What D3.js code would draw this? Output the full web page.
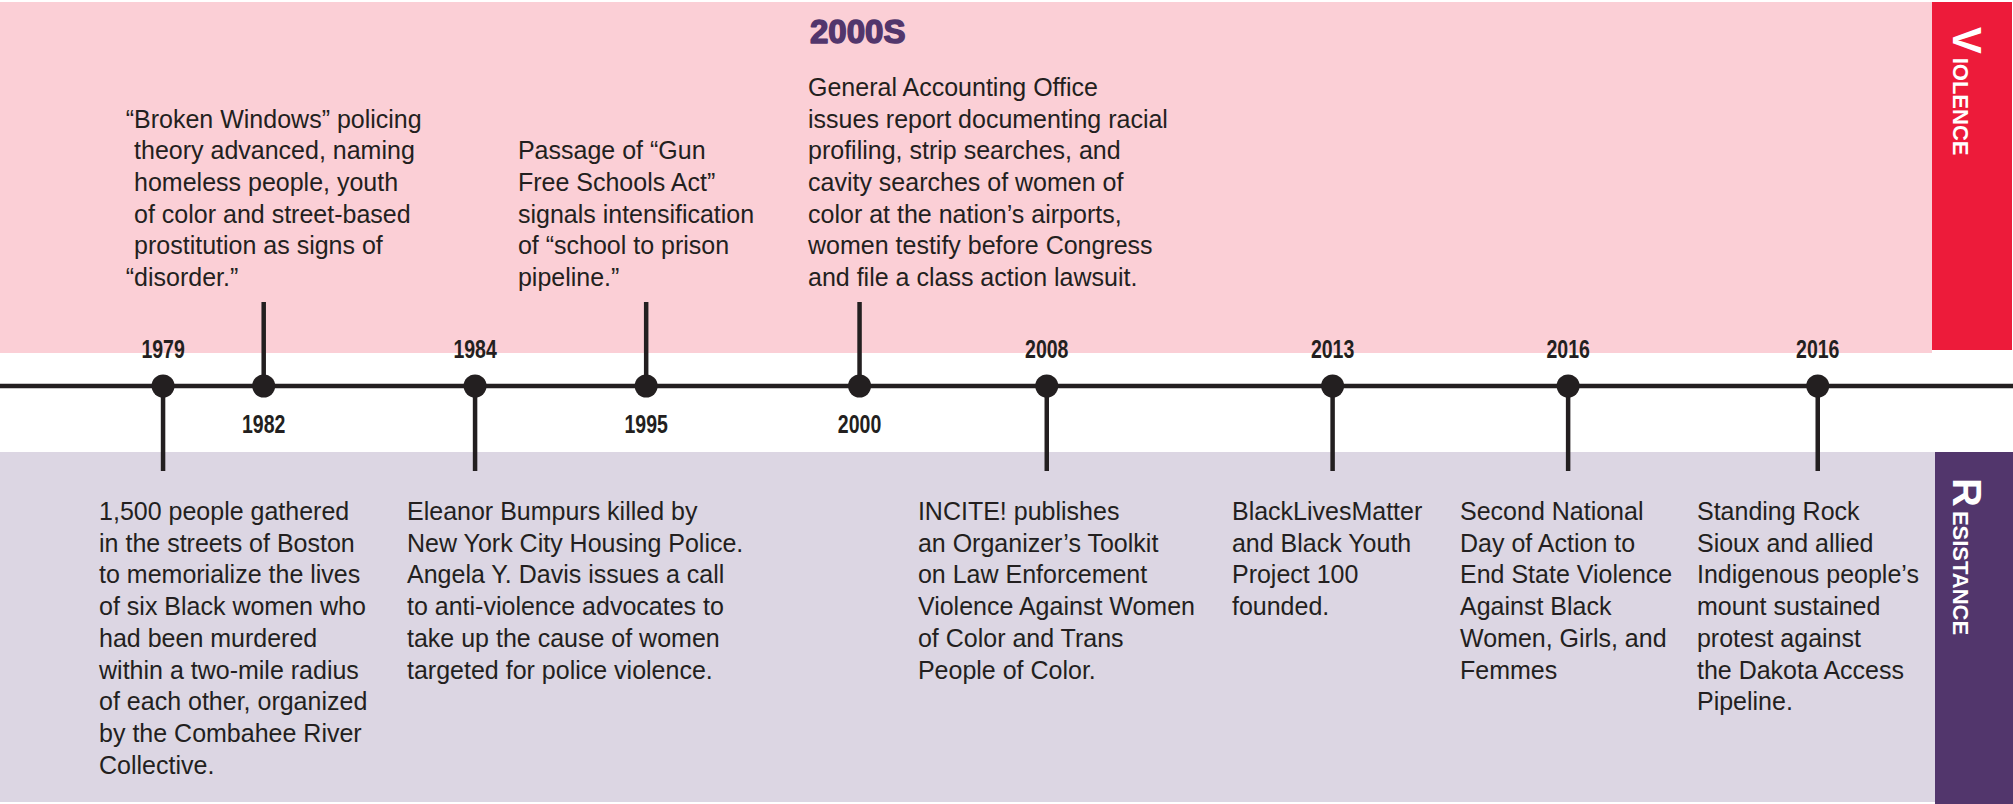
<!DOCTYPE html>
<html>
<head>
<meta charset="utf-8">
<script src="https://cdn.jsdelivr.net/npm/d3@7"></script>
<style>
  body { margin: 0; background: #fff; }
  svg { display: block; }
  .note { font-family: "Liberation Sans", Arial, sans-serif; font-size: 25px; fill: #231f20; }
  .year { font-family: "Liberation Sans", Arial, sans-serif; font-weight: bold; font-size: 25px; fill: #231f20; }
  .hand { font-family: "Liberation Sans", Arial, sans-serif; font-weight: bold; }
</style>
</head>
<body>
<svg id="chart"></svg>
<script>
const width = 2013;
const height = 804;

// events in the order they sit on the strip
const years = ["1979", "1982", "1984", "1995", "2000", "2008", "2013", "2016", "2016"];
// "up" = violence (note above the line), "down" = resistance (note below)
const sides = ["down", "up", "down", "up", "up", "down", "down", "down", "down"];
// place of each dot along the strip, 0-100
const slots = [8.1, 13.1, 23.6, 32.1, 42.7, 52.0, 66.2, 77.9, 90.3];
// where each note's left edge sits along the strip, 0-100
const noteSlots = [4.92, 6.66, 20.22, 25.73, 40.14, 45.6, 61.2, 72.53, 84.3];

const notes = [
  ["1,500 people gathered", "in the streets of Boston", "to memorialize the lives",
   "of six Black women who", "had been murdered", "within a two-mile radius",
   "of each other, organized", "by the Combahee River", "Collective."],
  ["\u201CBroken Windows\u201D policing", "theory advanced, naming", "homeless people, youth",
   "of color and street-based", "prostitution as signs of", "\u201Cdisorder.\u201D"],
  ["Eleanor Bumpurs killed by", "New York City Housing Police.", "Angela Y. Davis issues a call",
   "to anti-violence advocates to", "take up the cause of women", "targeted for police violence."],
  ["Passage of \u201CGun", "Free Schools Act\u201D", "signals intensification",
   "of \u201Cschool to prison", "pipeline.\u201D"],
  ["General Accounting Office", "issues report documenting racial", "profiling, strip searches, and",
   "cavity searches of women of", "color at the nation\u2019s airports,", "women testify before Congress",
   "and file a class action lawsuit."],
  ["INCITE! publishes", "an Organizer\u2019s Toolkit", "on Law Enforcement",
   "Violence Against Women", "of Color and Trans", "People of Color."],
  ["BlackLivesMatter", "and Black Youth", "Project 100", "founded."],
  ["Second National", "Day of Action to", "End State Violence",
   "Against Black", "Women, Girls, and", "Femmes"],
  ["Standing Rock", "Sioux and allied", "Indigenous people\u2019s",
   "mount sustained", "protest against", "the Dakota Access", "Pipeline."]
];

const decadeLabel = "2000s";
const decadeIndex = 4;
const bandLabels = ["Violence", "Resistance"];

const ink = "#231f20";
const pink = "#fbcfd6";
const red = "#ed1b3a";
const lilac = "#dcd6e3";
const purple = "#52366c";

const lineY = 386;
const upEnd = 302;
const downEnd = 471;
const gap = 31.7;

const svg = d3.select("#chart")
  .attr("width", width)
  .attr("height", height)
  .attr("viewBox", [0, 0, width, height]);

const x = d3.scaleLinear().domain([0, 100]).range([0, width]);

const events = years.map((year, i) => ({
  year,
  side: sides[i],
  pos: slots[i],
  notePos: noteSlots[i],
  lines: notes[i]
}));

// background bands and side tabs
svg.append("rect").attr("x", 0).attr("y", 2).attr("width", 1932).attr("height", 351).attr("fill", pink);
svg.append("rect").attr("x", 1932).attr("y", 2).attr("width", 80).attr("height", 348).attr("fill", red);
svg.append("rect").attr("x", 0).attr("y", 452).attr("width", 1935).attr("height", 350).attr("fill", lilac);
svg.append("rect").attr("x", 1935).attr("y", 452).attr("width", 78).attr("height", 352).attr("fill", purple);

// vertical tab labels, read top to bottom
const tabs = svg.append("g")
  .selectAll("text")
  .data(bandLabels)
  .join("text")
  .attr("class", "hand")
  .attr("fill", "#fff")
  .attr("transform", (d, i) => `translate(1953,${i === 0 ? 27 : 478}) rotate(90)`);

tabs.append("tspan")
  .attr("font-size", 40)
  .text(d => d[0].toUpperCase());
tabs.append("tspan")
  .attr("font-size", 22)
  .attr("dx", 4)
  .text(d => d.slice(1).toUpperCase());

// main line
svg.append("line")
  .attr("x1", 0).attr("x2", width)
  .attr("y1", lineY).attr("y2", lineY)
  .attr("stroke", ink)
  .attr("stroke-width", 4.5);

// stems
svg.append("g")
  .selectAll("line")
  .data(events)
  .join("line")
  .attr("x1", d => x(d.pos))
  .attr("x2", d => x(d.pos))
  .attr("y1", lineY)
  .attr("y2", d => d.side === "up" ? upEnd : downEnd)
  .attr("stroke", ink)
  .attr("stroke-width", 4.5);

// dots
svg.append("g")
  .selectAll("circle")
  .data(events)
  .join("circle")
  .attr("cx", d => x(d.pos))
  .attr("cy", lineY)
  .attr("r", 11.5)
  .attr("fill", ink);

// years, squeezed to look condensed
svg.append("g")
  .selectAll("text")
  .data(events)
  .join("text")
  .attr("class", "year")
  .attr("text-anchor", "middle")
  .attr("transform", d => `translate(${x(d.pos)},${d.side === "up" ? 433 : 358}) scale(0.78,1)`)
  .text(d => d.year);

// width of an opening quote, so quotes can hang in the margin
const probe = svg.append("text").attr("class", "note").text("\u201C");
const quoteW = probe.node().getComputedTextLength();
probe.remove();

// notes
const note = svg.append("g")
  .selectAll("text")
  .data(events)
  .join("text")
  .attr("class", "note");

note.selectAll("tspan")
  .data(d => d.lines.map((line, j) => ({ line, j, d })))
  .join("tspan")
  .attr("x", t => x(t.d.notePos) - (t.line.startsWith("\u201C") ? quoteW : 0))
  .attr("y", t => t.d.side === "up"
    ? 286 - (t.d.lines.length - 1 - t.j) * gap
    : 520 + t.j * gap)
  .text(t => t.line);

// decade heading over the 2000 note
svg.append("text")
  .attr("class", "hand")
  .attr("x", x(events[decadeIndex].notePos) + 2)
  .attr("y", 43)
  .attr("font-size", 33)
  .attr("fill", purple)
  .attr("stroke", purple)
  .attr("stroke-width", 1.5)
  .attr("stroke-linejoin", "round")
  .text(decadeLabel.toUpperCase());
</script>
</body>
</html>
